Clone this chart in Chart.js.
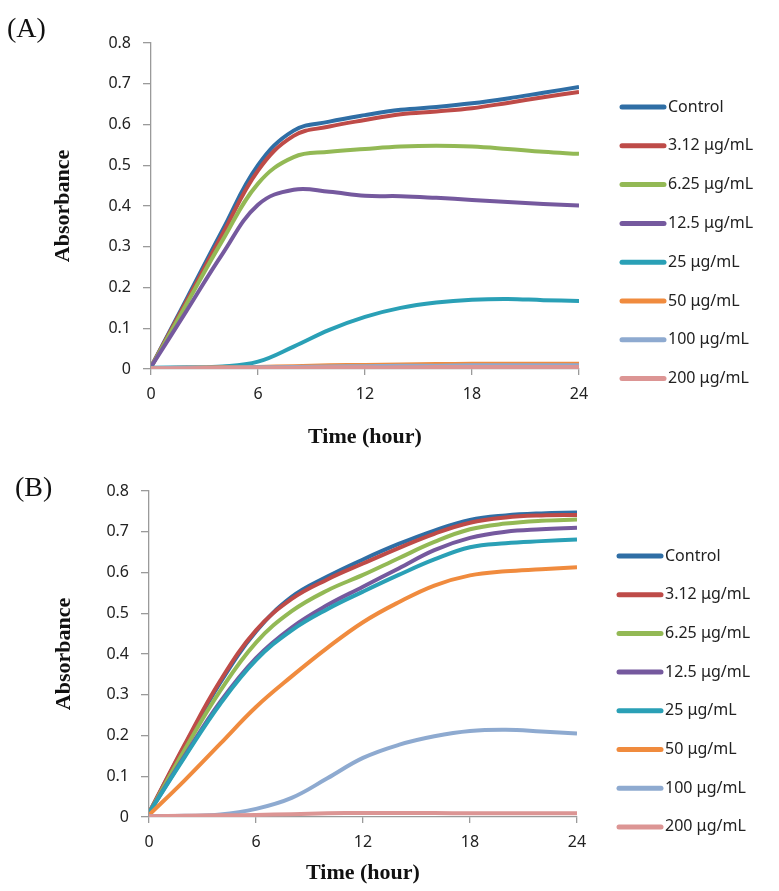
<!DOCTYPE html>
<html>
<head>
<meta charset="utf-8">
<script src="https://cdn.jsdelivr.net/npm/chart.js@4.4.0/dist/chart.umd.min.js"></script>
<style>
    body { margin: 0; background: #fff; width: 779px; height: 891px; position: relative; overflow: hidden; }
    .panel { position: absolute; left: 0; width: 779px; }
    .tag { position: absolute; font-family: "Liberation Serif", serif; font-size: 28px; color: #111; line-height: 1; }
</style>
</head>
<body>
<div class="panel" style="top:0;height:455px"><canvas id="chartA" width="779" height="455"></canvas></div>
<div class="panel" style="top:455px;height:436px"><canvas id="chartB" width="779" height="436"></canvas></div>
<div class="tag" style="left:7px;top:14px">(A)</div>
<div class="tag" style="left:15px;top:473px">(B)</div>
<script>
// legend labels
const doses = ['Control', '3.12 μg/mL', '6.25 μg/mL', '12.5 μg/mL', '25 μg/mL', '50 μg/mL', '100 μg/mL', '200 μg/mL'];
const xTicks = [0, 6, 12, 18, 24];
const yTicks = [0, 0.1, 0.2, 0.3, 0.4, 0.5, 0.6, 0.7, 0.8];

// (A) okunan değerler - 2 saatte bir
const hoursA = [0, 2, 4, 6, 8, 10, 12, 14, 16, 18, 20, 22, 24];
const controlA = [0.005, 0.172, 0.34, 0.5, 0.585, 0.607, 0.623, 0.636, 0.643, 0.652, 0.664, 0.678, 0.692];
const d312A = [0.005, 0.167, 0.33, 0.487, 0.572, 0.595, 0.611, 0.625, 0.632, 0.64, 0.653, 0.667, 0.68];
const d625A = [0.005, 0.16, 0.315, 0.455, 0.52, 0.533, 0.54, 0.546, 0.548, 0.546, 0.54, 0.533, 0.528];
const d125A = [0.005, 0.143, 0.282, 0.403, 0.44, 0.435, 0.425, 0.424, 0.42, 0.415, 0.41, 0.405, 0.401];
const d25A = [0.003, 0.004, 0.006, 0.018, 0.055, 0.096, 0.128, 0.15, 0.163, 0.17, 0.172, 0.169, 0.167];
const d50A = [0.002, 0.003, 0.004, 0.005, 0.007, 0.009, 0.01, 0.011, 0.012, 0.013, 0.013, 0.013, 0.013];
const d100A = [0.002, 0.003, 0.003, 0.004, 0.005, 0.006, 0.007, 0.008, 0.008, 0.009, 0.009, 0.009, 0.009];
const d200A = [0.002, 0.002, 0.003, 0.003, 0.003, 0.004, 0.004, 0.004, 0.005, 0.005, 0.005, 0.005, 0.005];

// (B) okunan değerler - 2 saatte bir
const hoursB = [0, 2, 4, 6, 8, 10, 12, 14, 16, 18, 20, 22, 24];
const controlB = [0.01, 0.175, 0.33, 0.455, 0.54, 0.59, 0.632, 0.67, 0.703, 0.729, 0.74, 0.745, 0.747];
const d312B = [0.01, 0.178, 0.335, 0.458, 0.535, 0.583, 0.622, 0.66, 0.695, 0.722, 0.735, 0.74, 0.741];
const d625B = [0.01, 0.165, 0.31, 0.428, 0.505, 0.556, 0.594, 0.635, 0.675, 0.706, 0.72, 0.727, 0.73];
const d125B = [0.01, 0.15, 0.283, 0.39, 0.465, 0.52, 0.565, 0.61, 0.655, 0.685, 0.7, 0.706, 0.71];
const d25B = [0.01, 0.147, 0.278, 0.385, 0.458, 0.51, 0.553, 0.594, 0.632, 0.662, 0.672, 0.677, 0.681];
const d50B = [0.005, 0.09, 0.18, 0.27, 0.345, 0.415, 0.478, 0.527, 0.568, 0.593, 0.603, 0.608, 0.613];
const d100B = [0.002, 0.003, 0.006, 0.02, 0.047, 0.095, 0.145, 0.177, 0.198, 0.211, 0.214, 0.21, 0.205];
const d200B = [0.002, 0.003, 0.004, 0.005, 0.007, 0.009, 0.01, 0.01, 0.01, 0.009, 0.009, 0.009, 0.009];

const lineColors = ['#2f6ea5', '#be4b48', '#93b955', '#75599e', '#2aa0b6', '#f08b3e', '#8eaad0', '#dc9594'];

// Sağdaki açıklama listesi (legend) kanvasa çiziliyor
const sideLegend = {
    id: 'sideLegend',
    afterDraw(chart, args, opts) {
        const ctx = chart.ctx;
        ctx.save();
        ctx.font = '16px "Noto Sans"';
        ctx.textBaseline = 'middle';
        ctx.fillStyle = '#222';
        chart.data.datasets.forEach((ds, i) => {
            const y = opts.top + i * opts.gap;
            ctx.strokeStyle = ds.borderColor;
            ctx.lineWidth = 5;
            ctx.lineCap = 'round';
            ctx.beginPath();
            ctx.moveTo(opts.x, y);
            ctx.lineTo(opts.x + 42, y);
            ctx.stroke();
            ctx.fillText(ds.label, opts.x + 46, y);
        });
        ctx.restore();
    }
};

function makeChart(id, hours, series, lay) {
    const n = series.length;
    const datasets = series.map((vals, i) => ({
        label: doses[i],
        data: hours.map((h, j) => ({ x: h, y: vals[j] })),
        borderColor: lineColors[i],
        borderWidth: 4,
        pointRadius: 0,
        tension: 0.4, // Excel'deki yumuşatılmış çizgi
        order: n - i  // Excel gibi son seri en üstte
    }));

    return new Chart(document.getElementById(id), {
        type: 'line',
        data: { datasets },
        plugins: [sideLegend],
        options: {
            responsive: false,
            animation: false,
            layout: { autoPadding: false, padding: lay.padding },
            plugins: {
                legend: { display: false },
                tooltip: { enabled: false },
                sideLegend: lay.legend
            },
            scales: {
                x: {
                    type: 'linear',
                    min: 0, max: 24,
                    afterBuildTicks: s => { s.ticks = xTicks.map(v => ({ value: v })); },
                    afterFit: s => { s.height = lay.xHeight; },
                    grid: { drawOnChartArea: false, tickLength: 6, color: '#9a9a9a', lineWidth: 1.3 },
                    border: { color: '#9a9a9a', width: 1.3 },
                    ticks: { padding: 10, color: '#222', font: { family: 'Noto Sans', size: 16 } },
                    title: {
                        display: true, text: 'Time (hour)', color: '#111',
                        font: { family: 'Liberation Serif', size: 22, weight: 'bold' },
                        padding: { top: 0, bottom: 4 }
                    }
                },
                y: {
                    min: 0, max: 0.8,
                    afterBuildTicks: s => { s.ticks = yTicks.map(v => ({ value: v })); },
                    afterFit: s => { s.width = lay.yWidth; },
                    grid: { drawOnChartArea: false, tickLength: 8, color: '#9a9a9a', lineWidth: 1.3 },
                    border: { color: '#9a9a9a', width: 1.3 },
                    ticks: {
                        padding: 12, color: '#222', font: { family: 'Noto Sans', size: 16 },
                        callback: v => String(+v.toFixed(1))
                    },
                    title: {
                        display: true, text: 'Absorbance', color: '#111',
                        font: { family: 'Liberation Serif', size: 22, weight: 'bold' },
                        padding: { top: 4, bottom: 0 }
                    }
                }
            }
        }
    });
}

makeChart('chartA',
    hoursA,
    [controlA, d312A, d625A, d125A, d25A, d50A, d100A, d200A],
    {
        padding: { left: 46, top: 43, right: 200, bottom: 0 },
        yWidth: 105, xHeight: 86,
        legend: { x: 622, top: 107, gap: 38.8 }
    });

makeChart('chartB',
    hoursB,
    [controlB, d312B, d625B, d125B, d25B, d50B, d100B, d200B],
    {
        padding: { left: 47, top: 36, right: 202, bottom: 0 },
        yWidth: 102, xHeight: 74,
        legend: { x: 619, top: 101, gap: 38.7 }
    });
</script>
</body>
</html>
